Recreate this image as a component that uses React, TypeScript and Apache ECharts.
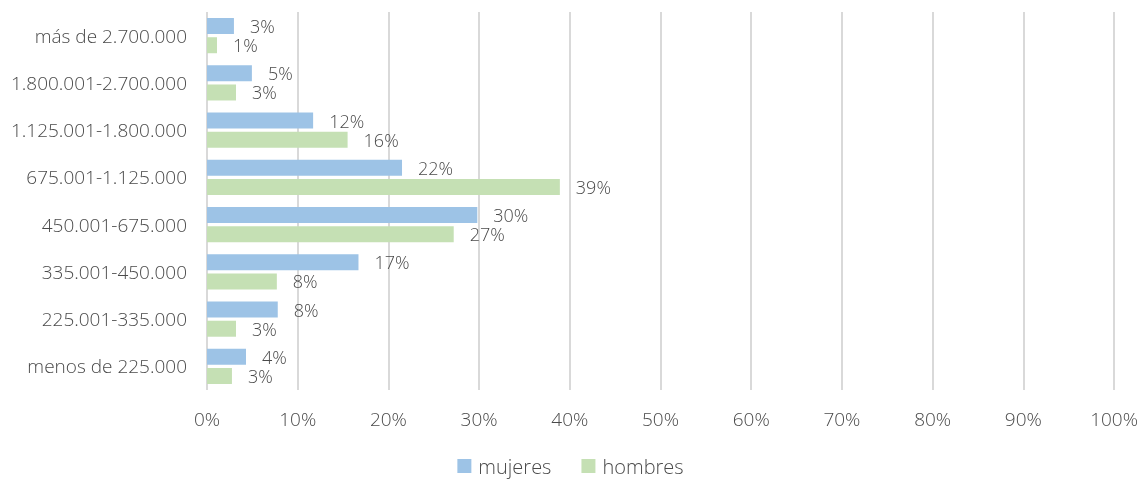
import React, { useEffect, useRef } from "react";
import * as echarts from "echarts";

const categories = [
  "menos de 225.000",
  "225.001-335.000",
  "335.001-450.000",
  "450.001-675.000",
  "675.001-1.125.000",
  "1.125.001-1.800.000",
  "1.800.001-2.700.000",
  "más de 2.700.000",
];
const mujeres = [4.3, 7.8, 16.7, 29.8, 21.5, 11.7, 4.95, 2.97];
const hombres = [2.75, 3.2, 7.7, 27.2, 38.9, 15.5, 3.2, 1.1];
const xTicks = [0, 10, 20, 30, 40, 50, 60, 70, 80, 90, 100];

const FONT = "'Open Sans', sans-serif";
const GRAY = "#4a4a4a";

export default function App() {
  const ref = useRef<HTMLDivElement>(null);
  useEffect(() => {
    const chart = echarts.init(ref.current!, null, { renderer: "svg" });
    const label = {
      show: true,
      position: "right",
      distance: 16,
      color: GRAY,
      fontFamily: FONT,
      fontSize: 18,
      fontWeight: 300,
      lineHeight: 17,
      formatter: (p: any) => Math.round(p.value) + "%",
    };
    chart.setOption({
      animation: false,
      textStyle: { fontFamily: FONT },
      grid: { left: 207, right: 25, top: 12, bottom: 90, containLabel: false },
      legend: {
        data: ["mujeres", "hombres"],
        top: 456,
        padding: 0,
        left: "center",
        icon: "rect",
        itemWidth: 14,
        itemHeight: 14,
        itemGap: 30,
        textStyle: {
          color: GRAY,
          fontSize: 20,
          lineHeight: 20,
          fontFamily: FONT,
          fontWeight: 300,
          padding: [0, 0, 0, 2],
        },
      },
      xAxis: {
        type: "value",
        min: xTicks[0],
        max: xTicks[xTicks.length - 1],
        interval: 10,
        axisLabel: {
          formatter: "{value}%",
          color: GRAY,
          fontSize: 19,
          fontFamily: FONT,
          fontWeight: 300,
          margin: 19,
        },
        axisLine: { show: false },
        axisTick: { show: false },
        splitLine: { lineStyle: { color: "#D9D9D9", width: 2 } },
      },
      yAxis: {
        type: "category",
        data: categories,
        axisLine: { show: false },
        axisTick: { show: false },
        axisLabel: {
          color: GRAY,
          fontSize: 19,
          fontFamily: FONT,
          fontWeight: 300,
          margin: 20,
        },
      },
      series: [
        {
          name: "mujeres",
          type: "bar",
          data: mujeres,
          barWidth: 16,
          barGap: "20%",
          itemStyle: { color: "#9DC3E6" },
          label,
        },
        {
          name: "hombres",
          type: "bar",
          data: hombres,
          barWidth: 16,
          barGap: "20%",
          itemStyle: { color: "#C5E0B4" },
          label,
        },
      ],
    });
    return () => chart.dispose();
  }, []);
  return (
    <div
      ref={ref}
      style={{ position: "fixed", left: 0, top: 0, width: 1141, height: 480 }}
    />
  );
}
